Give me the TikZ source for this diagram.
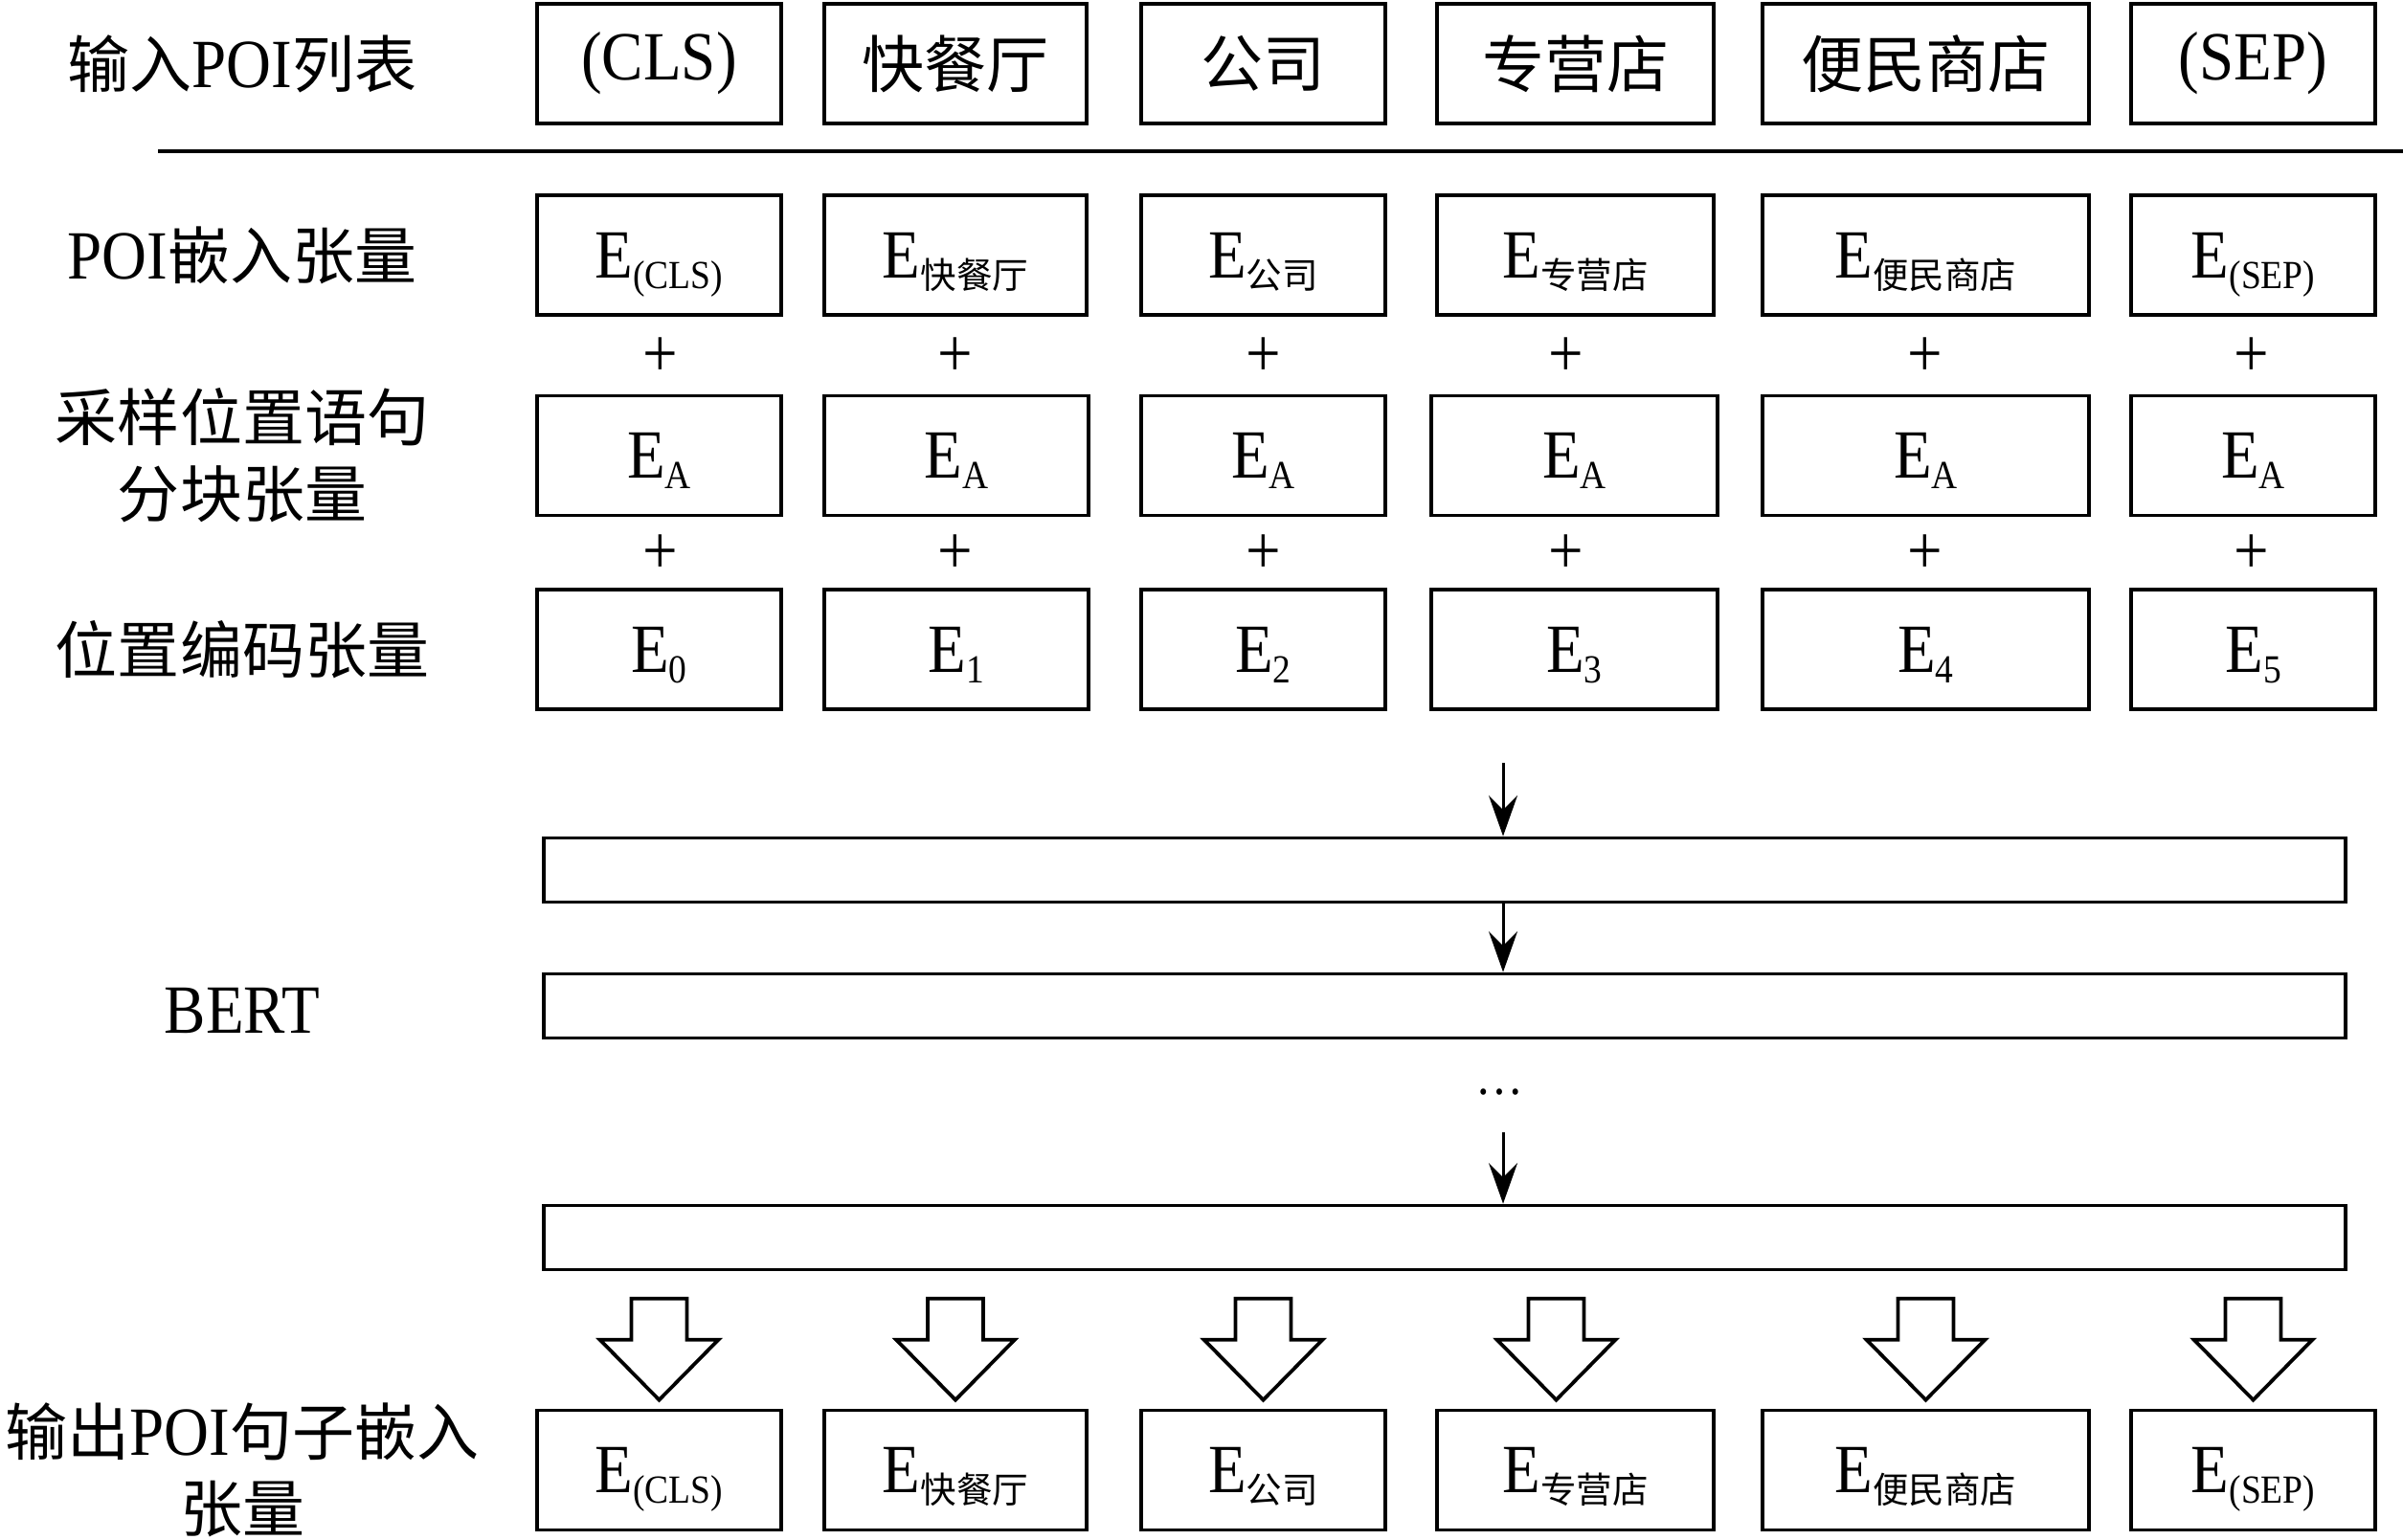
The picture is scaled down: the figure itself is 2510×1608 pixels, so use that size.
\documentclass[tikz,border=0pt]{standalone}
\usepackage{fontspec}
\setmainfont{Liberation Serif}[FakeStretch=0.9,Scale=1.11]
\newfontfamily\cjk{Noto Sans CJK SC}
\usetikzlibrary{arrows.meta}
\newcommand{\lsub}[1]{\raisebox{-4.5pt}[0pt][0pt]{\fontsize{15}{15}\selectfont #1}}
\tikzset{tb/.append style={draw,line width=1.5pt,minimum height=50pt,inner sep=0pt}}
\tikzset{lb/.append style={align=center}}
\tikzset{bar/.append style={draw,line width=1.5pt,minimum width=752.8pt,minimum height=26.8pt,inner sep=0pt}}
\tikzset{arr/.append style={line width=1.2pt,-{Stealth[length=17pt,width=12pt,inset=6pt]}}}
\tikzset{ho/.append style={draw,line width=1.5pt,miter limit=10}}

\begin{document}
\begin{tikzpicture}[x=0.4pt,y=-0.4pt,every node/.style={font=\fontsize{26}{32}\selectfont}]
                \useasboundingbox (0,0) rectangle (2510,1608);
                % left labels
                \node[lb] (l1) at (253,66.5) {{\cjk 输入}POI{\cjk 列表}};
                \node[lb] (l2) at (253,266.5) {POI{\cjk 嵌入张量}};
                \node[lb] (l3) at (253,476) {{\cjk 采样位置语句}\\{\cjk 分块张量}};
                \node[lb] (l4) at (253,678.5) {{\cjk 位置编码张量}};
                \node[lb] (l5) at (253,1056) {BERT};
                \node[lb] (l6) at (253,1536) {{\cjk 输出}POI{\cjk 句子嵌入}\\{\cjk 张量}};
                \draw[line width=1.5pt] (165,158) -- (2510,158);
                % input list
                \node[tb,minimum width=102pt] (i1) at (688.5,66.5) {(CLS)};
                \node[tb,minimum width=109.6pt] (i2) at (998,66.5) {\cjk 快餐厅};
                \node[tb,minimum width=102pt] (i3) at (1319.5,66.5) {\cjk 公司};
                \node[tb,minimum width=115.6pt] (i4) at (1645.5,66.5) {\cjk 专营店};
                \node[tb,minimum width=136.4pt] (i5) at (2011.5,66.5) {\cjk 便民商店};
                \node[tb,minimum width=102pt] (i6) at (2353.5,66.5) {(SEP)};
                % poi embedding
                \node[tb,minimum width=102pt] (p1) at (688.5,266.5) {E\lsub{(CLS)}};
                \node[tb,minimum width=109.6pt] (p2) at (998,266.5) {E\lsub{\cjk 快餐厅}};
                \node[tb,minimum width=102pt] (p3) at (1319.5,266.5) {E\lsub{\cjk 公司}};
                \node[tb,minimum width=115.6pt] (p4) at (1645.5,266.5) {E\lsub{\cjk 专营店}};
                \node[tb,minimum width=136.4pt] (p5) at (2011.5,266.5) {E\lsub{\cjk 便民商店}};
                \node[tb,minimum width=102pt] (p6) at (2353.5,266.5) {E\lsub{(SEP)}};
                % segment embedding
                \node[tb,minimum width=102pt] (s1) at (688.5,476) {E\lsub{A}};
                \node[tb,minimum width=110.4pt] (s2) at (999,476) {E\lsub{A}};
                \node[tb,minimum width=102pt] (s3) at (1319.5,476) {E\lsub{A}};
                \node[tb,minimum width=119.6pt] (s4) at (1644.5,476) {E\lsub{A}};
                \node[tb,minimum width=136.4pt] (s5) at (2011.5,476) {E\lsub{A}};
                \node[tb,minimum width=102pt] (s6) at (2353.5,476) {E\lsub{A}};
                % position embedding
                \node[tb,minimum width=102pt] (e1) at (688.5,678.5) {E\lsub{0}};
                \node[tb,minimum width=110.4pt] (e2) at (999,678.5) {E\lsub{1}};
                \node[tb,minimum width=102pt] (e3) at (1319.5,678.5) {E\lsub{2}};
                \node[tb,minimum width=119.6pt] (e4) at (1644.5,678.5) {E\lsub{3}};
                \node[tb,minimum width=136.4pt] (e5) at (2011.5,678.5) {E\lsub{4}};
                \node[tb,minimum width=102pt] (e6) at (2353.5,678.5) {E\lsub{5}};
                % plus signs
                \foreach \cx in {690,998,1320,1636,2011,2352}
                {
                  \node at (\cx,373) {+};
                  \node at (\cx,579) {+};
                }
                % bert layers
                \node[bar] (b1) at (1509,909) {};
                \node[bar] (b2) at (1509,1051) {};
                \node[bar] (b3) at (1509,1293) {};
                \coordinate (a0) at (1570,797);
                \coordinate (a1) at (1570,1183);
                \node[font=\fontsize{20}{20}\selectfont] (dots) at (1566,1141) {…};
                \draw[arr] (a0) -- (a0 |- b1.north);
                \draw[arr] (b1.south -| a0) -- (b2.north -| a0);
                \draw[arr] (a1) -- (a1 |- b3.north);
                % output
                \node[tb,minimum width=102pt] (o1) at (688.5,1536) {E\lsub{(CLS)}};
                \node[tb,minimum width=109.6pt] (o2) at (998,1536) {E\lsub{\cjk 快餐厅}};
                \node[tb,minimum width=102pt] (o3) at (1319.5,1536) {E\lsub{\cjk 公司}};
                \node[tb,minimum width=115.6pt] (o4) at (1645.5,1536) {E\lsub{\cjk 专营店}};
                \node[tb,minimum width=136.4pt] (o5) at (2011.5,1536) {E\lsub{\cjk 便民商店}};
                \node[tb,minimum width=102pt] (o6) at (2353.5,1536) {E\lsub{(SEP)}};
                \foreach \n/\dx in {o1/0,o2/0,o3/0,o4/-20,o5/0,o6/0}
                  \draw[ho] (\n.north) ++(\dx,-9) -- ++(-62,-63) -- ++(33,0) -- ++(0,-43)
                    -- ++(58,0) -- ++(0,43) -- ++(33,0) -- cycle;
            \end{tikzpicture}
\end{document}
